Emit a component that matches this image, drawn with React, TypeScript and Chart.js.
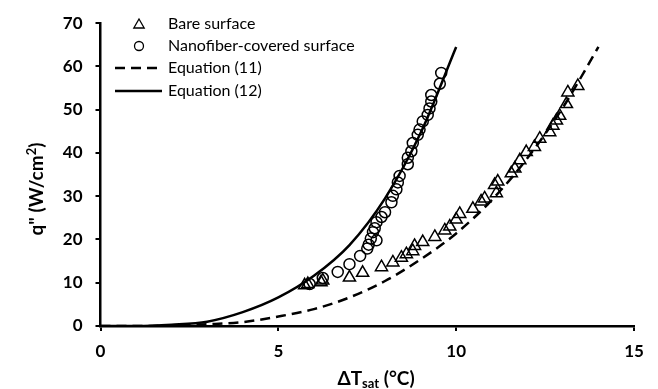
import React, { useEffect, useRef } from "react";
import { Chart, registerables } from "chart.js";

Chart.register(...registerables);

// ---- data ----
const bareX = [5.74, 5.83, 6.2, 6.25, 7.0, 7.37, 7.9, 8.22, 8.46, 8.6, 8.78, 8.83, 9.06, 9.4, 9.68, 9.82, 10.0, 10.1, 10.47, 10.7, 10.8, 11.13, 11.08, 11.17, 11.55, 11.65, 11.79, 11.97, 12.2, 12.35, 12.63, 12.72, 12.82, 12.91, 13.1, 13.14, 13.42];
const bareY = [9.4, 9.7, 10.1, 10.5, 11.2, 12.3, 13.6, 14.7, 15.8, 16.6, 17.3, 18.5, 19.4, 20.6, 22.1, 23.0, 24.6, 25.9, 27.1, 28.8, 29.5, 30.7, 32.6, 33.4, 35.3, 36.4, 38.3, 40.2, 41.4, 43.3, 44.8, 46.3, 47.5, 48.6, 51.3, 54.0, 55.5];

const nanoX = [5.88, 6.25, 6.67, 7.0, 7.3, 7.5, 7.54, 7.6, 7.66, 7.71, 7.76, 7.76, 7.9, 8.0, 8.18, 8.22, 8.32, 8.36, 8.41, 8.64, 8.64, 8.74, 8.78, 8.92, 8.97, 9.06, 9.2, 9.25, 9.3, 9.3, 9.54, 9.58];
const nanoY = [9.7, 11.1, 12.5, 14.3, 16.2, 17.9, 18.8, 20.2, 21.7, 22.6, 19.8, 24.0, 25.2, 26.3, 28.6, 30.1, 31.6, 33.2, 34.7, 37.4, 38.9, 40.4, 42.3, 44.2, 45.4, 47.3, 48.8, 50.3, 51.9, 53.4, 56.0, 58.5];

const eq11X = [0, 1, 2, 3, 4, 5, 6, 7, 8, 9, 10, 11, 12, 13, 14];
const eq11Y = [0, 0.0, 0.1, 0.4, 0.9, 2.2, 3.9, 6.6, 10.4, 15.4, 21.4, 29.1, 38.8, 50.5, 64.5];

const eq12X = [0, 1, 2, 3, 4, 5, 6, 7, 8, 9, 10];
const eq12Y = [0, 0.0, 0.3, 1.0, 3.2, 6.6, 11.6, 18.7, 29.5, 44.6, 64.5];

const xTicks = [0, 5, 10, 15];
const yTicks = [0, 10, 20, 30, 40, 50, 60, 70];

const legendLabels = ["Bare surface", "Nanofiber-covered surface", "Equation (11)", "Equation (12)"];

const FONT = 'Lato, "Open Sans", "DejaVu Sans", sans-serif';

const toPts = (xs: number[], ys: number[]) => xs.map((x, i) => ({ x, y: ys[i] }));

const legendPlugin = {
  id: "customLegend",
  afterDraw(chart: any) {
    const ctx = chart.ctx as CanvasRenderingContext2D;
    ctx.save();
    const rows = [24, 46, 68, 91];
    const textX = 168;
    const symX = 139;
    ctx.font = `16px ${FONT}`;
    ctx.fillStyle = "#000";
    ctx.textBaseline = "middle";
    ctx.textAlign = "left";
    legendLabels.forEach((label, i) => ctx.fillText(label, textX, rows[i]));
    ctx.strokeStyle = "#000";
    ctx.lineWidth = 1.3;
    const r = 6;
    const ty = rows[0] + 1;
    ctx.beginPath();
    ctx.moveTo(symX, ty - r);
    ctx.lineTo(symX + r * 0.866, ty + r / 2);
    ctx.lineTo(symX - r * 0.866, ty + r / 2);
    ctx.closePath();
    ctx.stroke();
    ctx.beginPath();
    ctx.arc(symX, rows[1], 4.5, 0, Math.PI * 2);
    ctx.stroke();
    ctx.lineWidth = 2.5;
    ctx.setLineDash([10, 6]);
    ctx.beginPath();
    ctx.moveTo(115, rows[2]);
    ctx.lineTo(162, rows[2]);
    ctx.stroke();
    ctx.setLineDash([]);
    ctx.beginPath();
    ctx.moveTo(115, rows[3]);
    ctx.lineTo(162, rows[3]);
    ctx.stroke();
    ctx.restore();
  },
};

const axisTitlePlugin = {
  id: "axisTitles",
  afterDraw(chart: any) {
    const ctx = chart.ctx as CanvasRenderingContext2D;
    ctx.save();
    ctx.fillStyle = "#000";
    ctx.textBaseline = "alphabetic";
    ctx.textAlign = "left";
    const big = `bold 19px ${FONT}`;
    const small = `bold 13px ${FONT}`;
    const xParts: [string, string, number][] = [
      ["ΔT", big, 0],
      ["sat", small, 3],
      [" (°C)", big, 0],
    ];
    let w = 0;
    xParts.forEach(([t, f]) => { ctx.font = f; w += ctx.measureText(t).width; });
    let x = 376 - w / 2;
    const baseY = 385;
    xParts.forEach(([t, f, dy]) => {
      ctx.font = f;
      ctx.fillText(t, x, baseY + dy);
      x += ctx.measureText(t).width;
    });
    const yParts: [string, string, number][] = [
      ['q" (W/cm', big, 0],
      ["2", small, -7],
      [")", big, 0],
    ];
    w = 0;
    yParts.forEach(([t, f]) => { ctx.font = f; w += ctx.measureText(t).width; });
    ctx.translate(43, 189);
    ctx.rotate(-Math.PI / 2);
    x = -w / 2;
    yParts.forEach(([t, f, dy]) => {
      ctx.font = f;
      ctx.fillText(t, x, dy);
      x += ctx.measureText(t).width;
    });
    ctx.restore();
  },
};

export default function App() {
  const ref = useRef<HTMLCanvasElement | null>(null);
  useEffect(() => {
    if (!ref.current) return;
    const chart = new Chart(ref.current, {
      type: "scatter",
      data: {
        datasets: [
          {
            label: legendLabels[0],
            data: toPts(bareX, bareY),
            pointStyle: "triangle",
            pointRadius: 7,
            pointHoverRadius: 7,
            borderColor: "#000",
            backgroundColor: "rgba(0,0,0,0)",
            borderWidth: 1.5,
            showLine: false,
          },
          {
            label: legendLabels[1],
            data: toPts(nanoX, nanoY),
            pointStyle: "circle",
            pointRadius: 5.5,
            pointHoverRadius: 5.5,
            borderColor: "#000",
            backgroundColor: "rgba(0,0,0,0)",
            borderWidth: 1.5,
            showLine: false,
          },
          {
            label: legendLabels[2],
            data: toPts(eq11X, eq11Y),
            showLine: true,
            pointRadius: 0,
            borderColor: "#000",
            borderWidth: 2.5,
            borderDash: [10, 6],
            cubicInterpolationMode: "monotone",
          },
          {
            label: legendLabels[3],
            data: toPts(eq12X, eq12Y),
            showLine: true,
            pointRadius: 0,
            borderColor: "#000",
            borderWidth: 2.5,
            cubicInterpolationMode: "monotone",
          },
        ],
      },
      options: {
        animation: false,
        responsive: true,
        maintainAspectRatio: false,
        layout: { padding: { top: 19, right: 24, bottom: 0, left: 0 } },
        plugins: {
          legend: { display: false },
          tooltip: { enabled: false },
        },
        scales: {
          x: {
            type: "linear",
            min: 0,
            max: 15,
            afterBuildTicks: (s: any) => { s.ticks = xTicks.map((v) => ({ value: v })); },
            afterFit: (s: any) => { s.height = 63; },
            ticks: {
              color: "#000",
              font: { family: FONT, size: 17, weight: "bold" },
              padding: 10,
            },
            grid: { drawOnChartArea: false, drawTicks: true, tickLength: 5, color: "#000", lineWidth: 2 },
            border: { color: "#000", width: 2.5 },
          },
          y: {
            type: "linear",
            min: 0,
            max: 70,
            afterBuildTicks: (s: any) => { s.ticks = yTicks.map((v) => ({ value: v })); },
            afterFit: (s: any) => { s.width = 100.5; },
            ticks: {
              color: "#000",
              font: { family: FONT, size: 17, weight: "bold" },
              padding: 13,
            },
            grid: { drawOnChartArea: false, drawTicks: true, tickLength: 5, color: "#000", lineWidth: 2 },
            border: { color: "#000", width: 2.5 },
          },
        },
      },
      plugins: [legendPlugin, axisTitlePlugin],
    });
    return () => chart.destroy();
  }, []);
  return (
    <div style={{ position: "fixed", left: 0, top: 0, width: 658, height: 389, background: "#fff" }}>
      <canvas ref={ref} />
    </div>
  );
}
